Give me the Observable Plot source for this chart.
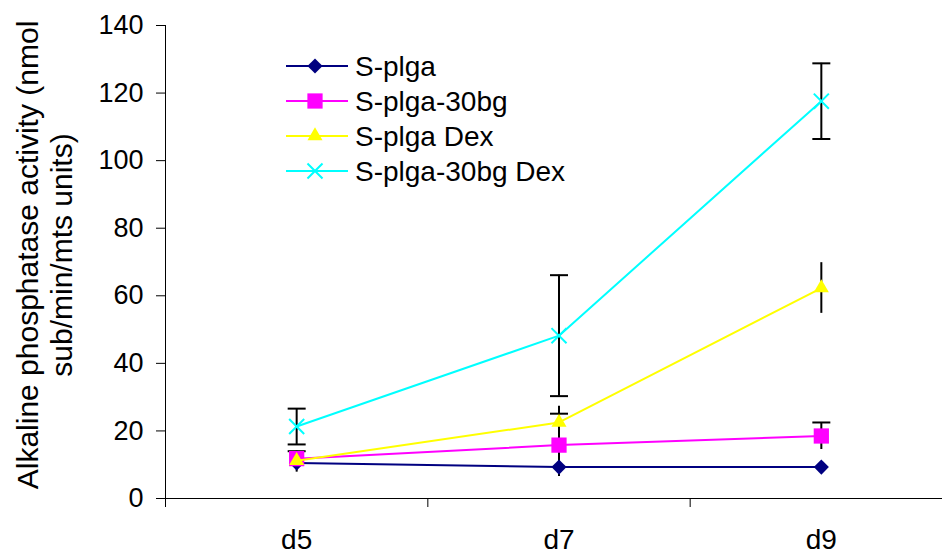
<!DOCTYPE html>
<html>
<head>
<meta charset="utf-8">
<script src="https://cdn.jsdelivr.net/npm/d3@7"></script>
<script src="https://cdn.jsdelivr.net/npm/@observablehq/plot@0.6"></script>
<style>
  html, body { margin: 0; padding: 0; background: #fff; }
  #chart { width: 942px; height: 554px; overflow: hidden; }
</style>
</head>
<body>
<div id="chart"></div>
<script>
// ---- data ----
const categories = ["d5", "d7", "d9"];
const seriesNames = ["S-plga", "S-plga-30bg", "S-plga Dex", "S-plga-30bg Dex"];
const seriesColors = ["#000080", "#FF00FF", "#FFFF00", "#00FFFF"];
const seriesSymbols = ["diamond2", "square", "triangle", "times"];
const capStyle = ["none", "top", "none", "both"];

const sPlga = [10.5, 9.3, 9.3];
const sPlga30bg = [11.8, 15.8, 18.5];
const sPlgaDex = [11.2, 22.5, 62.3];
const sPlga30bgDex = [21.3, 48.2, 117.6];

const errPlga = [2.7, 1.5, 1.5];
const errPlga30bg = [2.2, 9.3, 4.0];
const errPlgaDex = [1.5, 4.8, 7.5];
const errPlga30bgDex = [5.3, 17.9, 11.2];

const yTicks = [0, 20, 40, 60, 80, 100, 120, 140];
const yTitle = "Alkaline phosphatase activity (nmol\nsub/min/mts units)";

// ---- tidy table ----
const values = [sPlga, sPlga30bg, sPlgaDex, sPlga30bgDex];
const errors = [errPlga, errPlga30bg, errPlgaDex, errPlga30bgDex];
const rows = [];
seriesNames.forEach((name, s) => {
  categories.forEach((c, i) => {
    rows.push({series: name, s, xi: i, v: values[s][i], e: errors[s][i],
               lo: values[s][i] - errors[s][i], hi: values[s][i] + errors[s][i]});
  });
});
const capTop = rows.filter(d => capStyle[d.s] === "top" || capStyle[d.s] === "both");
const capBot = rows.filter(d => capStyle[d.s] === "both");
const boundaries = d3.range(-0.5, categories.length, 1);
const centers = d3.range(categories.length);

const capSymbol = {draw(ctx) { ctx.moveTo(-9, 0); ctx.lineTo(9, 0); }};
const sizeFor = {diamond2: 6.8, square: 8.6, triangle: 5.6, times: 6.9};

const font = "'Liberation Sans', Arial, Helvetica, sans-serif";

const seriesMarks = seriesNames.flatMap((name, s) => {
  const data = rows.filter(d => d.s === s);
  const sym = seriesSymbols[s];
  const filled = sym !== "times";
  return [
    Plot.line(data, {x: "xi", y: "v", stroke: seriesColors[s], strokeWidth: 2}),
    Plot.dot(data, {x: "xi", y: "v", symbol: sym, r: sizeFor[sym],
      fill: filled ? seriesColors[s] : "none",
      stroke: filled ? "none" : seriesColors[s], strokeWidth: filled ? 0 : 2})
  ];
});

const chart = Plot.plot({
  width: 942,
  height: 554,
  marginTop: 25,
  marginBottom: 56,
  marginLeft: 165,
  marginRight: 0,
  style: {fontFamily: font, fontSize: "27px", color: "#000", background: "#fff", overflow: "hidden"},
  x: {type: "linear", domain: [-0.5, categories.length - 0.5], range: [165, 952]},
  y: {domain: [0, 140]},
  marks: [
    Plot.axisY(yTicks, {tickSize: 9, tickPadding: 13, tickFormat: d => String(d), label: null, stroke: "#000", fontSize: 27}),
    Plot.axisX(boundaries, {tickSize: 9, tickFormat: () => "", label: null, stroke: "#000"}),
    Plot.axisX(centers, {tickSize: 0, tickPadding: 31, tickFormat: i => categories[i], label: null, fontSize: 28}),
    Plot.ruleY([0], {stroke: "#000", strokeWidth: 1}),
    Plot.ruleX([-0.5], {y1: 0, y2: 140, stroke: "#000", strokeWidth: 1}),
    Plot.text([yTitle], {text: d => d, frameAnchor: "left", textAnchor: "middle", rotate: -90,
      dx: -121.6, dy: -7, lineHeight: 1.13, fontSize: 30, fill: "#000"}),
    Plot.ruleX(rows, {x: "xi", y1: "lo", y2: "hi", stroke: "#000", strokeWidth: 2}),
    Plot.dot(capTop, {x: "xi", y: "hi", symbol: capSymbol, r: 5, stroke: "#000", strokeWidth: 2, fill: "none"}),
    Plot.dot(capBot, {x: "xi", y: "lo", symbol: capSymbol, r: 5, stroke: "#000", strokeWidth: 2, fill: "none"}),
    ...seriesMarks
  ]
});

// ---- legend (inside plot area, top-left) ----
const svg = d3.select(chart);
const legend = svg.append("g").attr("font-family", font).attr("font-size", 28).attr("text-anchor", "start");
seriesNames.forEach((name, s) => {
  const gy = 66 + s * 35;
  const g = legend.append("g").attr("transform", `translate(0,${gy})`);
  g.append("line").attr("x1", 286).attr("x2", 348).attr("y1", 0).attr("y2", 0)
    .attr("stroke", seriesColors[s]).attr("stroke-width", 2);
  const sym = seriesSymbols[s];
  const symType = {diamond2: d3.symbolDiamond2, square: d3.symbolSquare, triangle: d3.symbolTriangle, times: d3.symbolTimes}[sym];
  const r = sizeFor[sym];
  const path = g.append("path").attr("transform", "translate(315,0)")
    .attr("d", d3.symbol(symType, Math.PI * r * r)());
  if (sym === "times") path.attr("fill", "none").attr("stroke", seriesColors[s]).attr("stroke-width", 2);
  else path.attr("fill", seriesColors[s]);
  g.append("text").attr("x", 355).attr("y", 0).attr("dy", "0.35em").attr("fill", "#000")
    .attr("text-anchor", "start").text(name);
});

document.getElementById("chart").appendChild(chart);
</script>
</body>
</html>
